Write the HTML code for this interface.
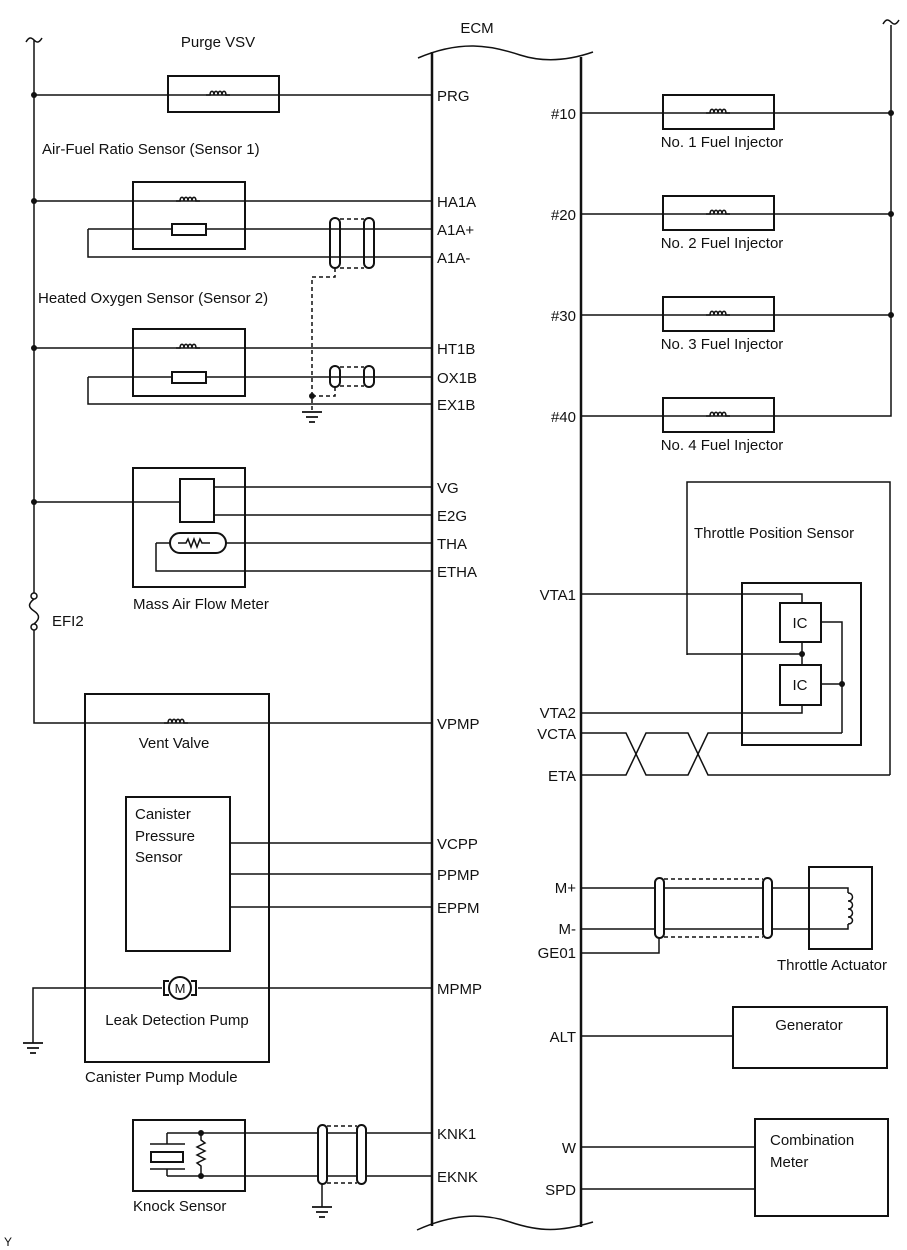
<!DOCTYPE html>
<html><head><meta charset="utf-8"><style>
html,body{margin:0;padding:0;background:#fff}
svg{display:block}
text{font-family:"Liberation Sans",Arial,sans-serif;font-size:15px;fill:#111}
</style></head><body>
<svg width="907" height="1250" viewBox="0 0 907 1250" xmlns="http://www.w3.org/2000/svg">
<defs>
<g id="coil"><path d="M-12,0 h4 c0,-5 4,-5 4,0 c0,-5 4,-5 4,0 c0,-5 4,-5 4,0 c0,-5 4,-5 4,0 h4" fill="none" stroke="#111" stroke-width="1.5"/></g>
<g id="gnd"><path d="M-10,0 h20 M-6,5 h12 M-3,10 h6" stroke="#111" stroke-width="1.8"/></g>
</defs>
<g fill="none" stroke="#111" stroke-width="1.5">
<!-- ECM -->
<path d="M432,52 V1226 M581,57 V1227" stroke-width="2.5"/>
<path d="M418,58 C460,40 490,45 520,55 C545,63 570,60 593,52"/>
<path d="M417,1230 C450,1215 480,1212 510,1222 C540,1232 560,1232 593,1222"/>
<!-- left bus -->
<path d="M34,40 V593 M34,630 V723 H432"/>
<path d="M26,42 c3,-5 5,-5 8,-2 c3,3 5,3 8,-2"/>
<!-- fuse -->
<circle cx="34" cy="596" r="3" fill="#fff"/><circle cx="34" cy="627" r="3" fill="#fff"/>
<path d="M34,599 c-6,5 -6,8 0,12 c6,4 6,8 0,13"/>
<!-- purge -->
<path d="M34,95 H432"/><rect x="168" y="76" width="111" height="36" stroke-width="2" fill="#fff"/>
<path d="M168,95 H279"/>
<!-- AFR -->
<rect x="133" y="182" width="112" height="67" stroke-width="2"/>
<path d="M34,201 H432 M88,229 H432 M88,229 V257 H432"/>
<rect x="172" y="224" width="34" height="11" stroke-width="2" fill="#fff"/>
<rect x="330" y="218" width="10" height="50" rx="5" stroke-width="2"/>
<rect x="364" y="218" width="10" height="50" rx="5" stroke-width="2"/>
<path d="M340,219 H364 M340,268 H364 M335,268 V277 H312 V412" stroke-dasharray="4,3"/>
<!-- HO2 -->
<rect x="133" y="329" width="112" height="67" stroke-width="2"/>
<path d="M34,348 H432 M88,377 H432 M88,377 V404 H432"/>
<rect x="172" y="372" width="34" height="11" stroke-width="2" fill="#fff"/>
<rect x="330" y="366" width="10" height="21" rx="5" stroke-width="2"/>
<rect x="364" y="366" width="10" height="21" rx="5" stroke-width="2"/>
<path d="M340,367 H364 M340,386 H364 M335,387 V396 H312" stroke-dasharray="4,3"/>
<!-- MAF -->
<rect x="133" y="468" width="112" height="119" stroke-width="2"/>
<path d="M34,502 H180"/><rect x="180" y="479" width="34" height="43" stroke-width="2"/>
<path d="M214,487 H432 M214,515 H432 M156,543 H432 M156,543 V571 H432"/>
<rect x="170" y="533" width="56" height="20" rx="10" stroke-width="2" fill="#fff"/>
<path d="M178,543 h8 l2,-4 l3,8 l3,-8 l3,8 l3,-8 l2,4 h8"/>
<!-- canister module -->
<rect x="85" y="694" width="184" height="368" stroke-width="2"/>
<rect x="126" y="797" width="104" height="154" stroke-width="2"/>
<path d="M230,843 H432 M230,874 H432 M230,907 H432"/>
<path d="M33,1043 V988 H432"/>
<rect x="162" y="980" width="36" height="16" fill="#fff" stroke="none"/>
<circle cx="180" cy="988" r="11" fill="#fff" stroke-width="2"/>
<path d="M169,981 h-5 v14 h5 M191,981 h5 v14 h-5" stroke-width="2"/>
<!-- knock -->
<rect x="133" y="1120" width="112" height="71" stroke-width="2"/>
<path d="M167,1133 H432 M167,1176 H432 M167,1133 V1144 M167,1176 V1169 M150,1144 H185 M150,1169 H185"/>
<rect x="151" y="1152" width="32" height="10" stroke-width="2"/>
<path d="M201,1133 V1140 l4,3 l-8,4 l8,4 l-8,4 l8,4 l-8,4 l4,3 V1176"/>
<rect x="318" y="1125" width="9" height="59" rx="4.5" stroke-width="2" fill="#fff"/>
<rect x="357" y="1125" width="9" height="59" rx="4.5" stroke-width="2" fill="#fff"/>
<path d="M327,1126 H357 M327,1183 H357" stroke-dasharray="4,3"/>
<path d="M322,1184 V1207"/>
<!-- right bus -->
<path d="M891,25 V416 H581"/>
<path d="M883,24 c3,-5 5,-5 8,-2 c3,3 5,3 8,-2"/>
<path d="M581,113 H891 M581,214 H891 M581,315 H891"/>
<rect x="663" y="95" width="111" height="34" stroke-width="2"/>
<rect x="663" y="196" width="111" height="34" stroke-width="2"/>
<rect x="663" y="297" width="111" height="34" stroke-width="2"/>
<rect x="663" y="398" width="111" height="34" stroke-width="2"/>
<!-- throttle pos -->
<path d="M687,655 V482 H890 V775"/>
<rect x="742" y="583" width="119" height="162" stroke-width="2"/>
<rect x="780" y="603" width="41" height="39" stroke-width="2" fill="#fff"/>
<rect x="780" y="665" width="41" height="40" stroke-width="2" fill="#fff"/>
<path d="M581,594 H802 V603 M687,654 H802 M802,642 V665 M581,713 H802 V705 M821,622 H842 V733 M821,684 H842"/>
<path d="M581,733 H626 L646,775 H688 L708,733 H842"/>
<path d="M581,775 H626 L646,733 H688 L708,775 H890"/>
<!-- throttle actuator -->
<rect x="809" y="867" width="63" height="82" stroke-width="2"/>
<path d="M581,888 H848 V893 M581,929 H848 V924"/>
<path d="M848,893 c6,0 6,8 0,8 c6,0 6,8 0,8 c6,0 6,8 0,8 c6,0 6,7 0,7"/>
<rect x="655" y="878" width="9" height="60" rx="4.5" stroke-width="2" fill="#fff"/>
<rect x="763" y="878" width="9" height="60" rx="4.5" stroke-width="2" fill="#fff"/>
<path d="M664,879 H763 M664,937 H763" stroke-dasharray="4,3"/>
<path d="M581,953 H659 V938"/>
<!-- generator / meter -->
<rect x="733" y="1007" width="154" height="61" stroke-width="2"/>
<path d="M581,1036 H733 M581,1147 H755 M581,1189 H755"/>
<rect x="755" y="1119" width="133" height="97" stroke-width="2"/>
</g>
<!-- coils -->
<g fill="#fff"><use href="#coil" x="218" y="95"/><use href="#coil" x="188" y="201"/><use href="#coil" x="188" y="348"/><use href="#coil" x="176" y="723"/>
<use href="#coil" x="718" y="113"/><use href="#coil" x="718" y="214"/><use href="#coil" x="718" y="315"/><use href="#coil" x="718" y="416"/></g>
<use href="#gnd" x="312" y="412"/><use href="#gnd" x="33" y="1043"/><use href="#gnd" x="322" y="1207"/>
<!-- dots -->
<g fill="#111"><circle cx="34" cy="95" r="3"/><circle cx="34" cy="201" r="3"/><circle cx="34" cy="348" r="3"/><circle cx="34" cy="502" r="3"/>
<circle cx="312" cy="396" r="3"/><circle cx="891" cy="113" r="3"/><circle cx="891" cy="214" r="3"/><circle cx="891" cy="315" r="3"/>
<circle cx="802" cy="654" r="3"/><circle cx="842" cy="684" r="3"/><circle cx="201" cy="1133" r="3"/><circle cx="201" cy="1176" r="3"/></g>
<!-- text -->
<text x="180" y="993" text-anchor="middle" style="font-size:13px">M</text>
<text x="477" y="33" text-anchor="middle">ECM</text>
<text x="218" y="47" text-anchor="middle">Purge VSV</text>
<text x="42" y="154">Air-Fuel Ratio Sensor (Sensor 1)</text>
<text x="38" y="303">Heated Oxygen Sensor (Sensor 2)</text>
<text x="133" y="609">Mass Air Flow Meter</text>
<text x="52" y="626">EFI2</text>
<text x="174" y="748" text-anchor="middle">Vent Valve</text>
<text x="135" y="819">Canister</text><text x="135" y="841">Pressure</text><text x="135" y="862">Sensor</text>
<text x="177" y="1025" text-anchor="middle">Leak Detection Pump</text>
<text x="85" y="1082">Canister Pump Module</text>
<text x="133" y="1211">Knock Sensor</text>
<text x="4" y="1246" style="font-size:12px">Y</text>
<g>
<text x="437" y="101">PRG</text><text x="437" y="207">HA1A</text><text x="437" y="235">A1A+</text><text x="437" y="263">A1A-</text>
<text x="437" y="354">HT1B</text><text x="437" y="383">OX1B</text><text x="437" y="410">EX1B</text>
<text x="437" y="493">VG</text><text x="437" y="521">E2G</text><text x="437" y="549">THA</text><text x="437" y="577">ETHA</text>
<text x="437" y="729">VPMP</text><text x="437" y="849">VCPP</text><text x="437" y="880">PPMP</text><text x="437" y="913">EPPM</text>
<text x="437" y="994">MPMP</text><text x="437" y="1139">KNK1</text><text x="437" y="1182">EKNK</text>
</g>
<g text-anchor="end">
<text x="576" y="119">#10</text><text x="576" y="220">#20</text><text x="576" y="321">#30</text><text x="576" y="422">#40</text>
<text x="576" y="600">VTA1</text><text x="576" y="718">VTA2</text><text x="576" y="739">VCTA</text><text x="576" y="781">ETA</text>
<text x="576" y="893">M+</text><text x="576" y="934">M-</text><text x="576" y="958">GE01</text><text x="576" y="1042">ALT</text>
<text x="576" y="1153">W</text><text x="576" y="1195">SPD</text>
</g>
<g text-anchor="middle">
<text x="722" y="147">No. 1 Fuel Injector</text><text x="722" y="248">No. 2 Fuel Injector</text>
<text x="722" y="349">No. 3 Fuel Injector</text><text x="722" y="450">No. 4 Fuel Injector</text>
<text x="800" y="628">IC</text><text x="800" y="690">IC</text>
<text x="832" y="970">Throttle Actuator</text>
<text x="809" y="1030">Generator</text>
</g>
<text x="694" y="538">Throttle Position Sensor</text>
<text x="770" y="1145">Combination</text><text x="770" y="1167">Meter</text>
</svg>
</body></html>
